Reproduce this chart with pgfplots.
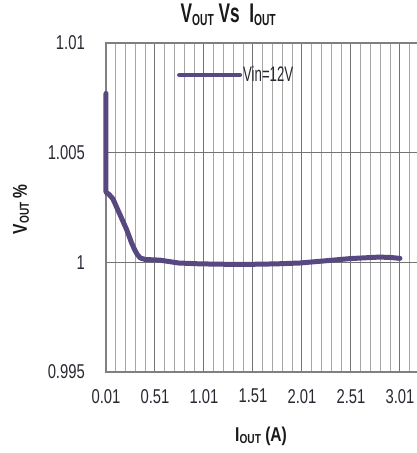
\documentclass[border=0pt]{standalone}
\usepackage{pgfplots}
\pgfplotsset{compat=1.18}
\usepackage{fontspec}
\setmainfont{Liberation Sans}
\newfontfamily\condT[FakeStretch=0.74]{Liberation Sans}
\newfontfamily\condL[FakeStretch=0.63]{Liberation Sans}
\newfontfamily\condB[FakeStretch=0.64]{Liberation Sans}
\newfontfamily\condX[FakeStretch=0.78]{Liberation Sans}
\newcommand\subT[1]{\raisebox{-0.1em}{\fontsize{16}{16}\selectfont #1}}
\newcommand\subX[1]{\raisebox{-0.1em}{\fontsize{13}{13}\selectfont #1}}
\definecolor{vline}{RGB}{88,72,130}
\definecolor{tickc}{RGB}{40,40,50}
\begin{document}
\begin{tikzpicture}
\begin{axis}[
  at={(0pt,0pt)}, anchor=south west,
  scale only axis,
  width=322.4pt, height=329pt,
  xmin=0.01, xmax=3.30,
  ymin=0.995, ymax=1.01,
  clip=false,
  /pgf/number format/assume math mode=true,
  xtick={0.01,0.51,1.01,1.51,2.01,2.51,3.01},
  xticklabels={0.01,0.51,1.01,1.51,2.01,2.51,3.01},
  minor xtick={0.11,0.21,0.31,0.41,0.61,0.71,0.81,0.91,1.11,1.21,1.31,1.41,1.61,1.71,1.81,1.91,2.11,2.21,2.31,2.41,2.61,2.71,2.81,2.91,3.11,3.21},
  ytick={0.995,1,1.005,1.01},
  yticklabels={0.995,1,1.005,1.01},
  major tick length=0pt, minor tick length=0pt,
  xmajorgrids, xminorgrids, ymajorgrids,
  major grid style={draw=black!55, line width=1pt},
  minor grid style={draw=black!35, line width=0.9pt},
  axis line style={draw=black!50, line width=1.2pt},
  ticklabel style={font=\condT\fontsize{20}{20}\selectfont, text=tickc},
  xticklabel style={anchor=north, inner sep=0pt, yshift=-17pt},
  yticklabel style={anchor=east, inner sep=0pt, xshift=-21pt},
  title={V\subT{OUT} Vs\ \ I\subT{OUT}},
  title style={at={(0.379,1)}, anchor=base, yshift=14pt, inner sep=0pt,
    font=\condB\bfseries\fontsize{27}{27}\selectfont, text=black!90},
  xlabel={I\subX{OUT} (A)},
  xlabel style={at={(0.481,0)}, anchor=base, yshift=-69pt, inner sep=0pt,
    font=\condX\bfseries\fontsize{20}{20}\selectfont, text=black!90},
  ylabel={V\subX{OUT} \%},
  ylabel style={at={(-0.2636,0.495)}, anchor=center, inner sep=0pt,
    font=\condX\bfseries\fontsize{20}{20}\selectfont, text=black!90},
  legend style={at={(0.220,0.9027)}, anchor=west, draw=none, fill=none,
    inner sep=0pt, nodes={inner sep=1pt, font=\condL\fontsize{21}{21}\selectfont, text=tickc}},
  legend image code/.code={\draw[#1, line width=4pt] (0pt,0pt) -- (61pt,0pt);},
]
\addplot[vline, line width=5pt, line join=round, line cap=round] coordinates {
(0.01,1.0077)
(0.01,1.0032)
(0.04,1.0031)
(0.08,1.0029)
(0.15,1.0022)
(0.22,1.0015)
(0.27,1.0009)
(0.30,1.0006)
(0.33,1.00035)
(0.36,1.0002)
(0.41,1.00013)
(0.56,1.0001)
(0.75,0.99997)
(0.97,0.99993)
(1.25,0.99991)
(1.5,0.99991)
(1.75,0.99993)
(1.99,0.99997)
(2.25,1.00007)
(2.5,1.00017)
(2.8,1.00024)
(2.92,1.00022)
(3.01,1.00018)
};
\addlegendentry{Vin=12V}
\end{axis}
\pgfresetboundingbox
\useasboundingbox (-106pt,-81pt) rectangle (311pt,372pt);
\end{tikzpicture}
\end{document}
